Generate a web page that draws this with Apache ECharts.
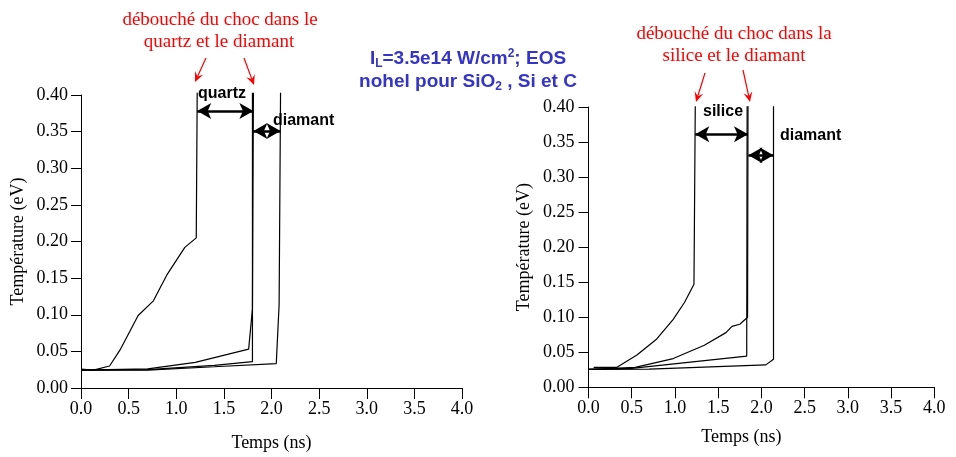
<!DOCTYPE html>
<html>
<head>
<meta charset="utf-8">
<script src="https://cdn.jsdelivr.net/npm/echarts@6/dist/echarts.min.js"></script>
<style>
  html, body { margin: 0; background: #fff; }
  #chart { width: 956px; height: 457px; }
</style>
</head>
<body>
<div id="chart"></div>
<script>
// Temps (ns), Température (eV)
const quartzFront  = [[0, 0.0257], [0.13, 0.0244], [0.30, 0.030], [0.41, 0.052], [0.60, 0.099], [0.76, 0.119], [0.90, 0.154], [1.09, 0.192], [1.21, 0.205], [1.22, 0.403]];
const quartzRear   = [[0, 0.0245], [0.70, 0.026], [1.20, 0.035], [1.76, 0.053], [1.80, 0.108], [1.81, 0.403]];
const quartzMid    = [[0, 0.0245], [0.70, 0.025], [1.40, 0.031], [1.80, 0.036], [1.80, 0.403]];
const diamantLeft  = [[0, 0.0245], [0.70, 0.0245], [1.40, 0.029], [2.05, 0.0334], [2.08, 0.114], [2.095, 0.403]];

const siliceFront  = [[0.06, 0.0285], [0.33, 0.0285], [0.56, 0.046], [0.79, 0.069], [0.98, 0.097], [1.11, 0.121], [1.22, 0.147], [1.235, 0.401]];
const siliceRear   = [[0, 0.0257], [0.54, 0.0285], [0.98, 0.041], [1.34, 0.060], [1.59, 0.078], [1.66, 0.087], [1.75, 0.090], [1.84, 0.100], [1.845, 0.401]];
const siliceMid    = [[0, 0.0257], [0.50, 0.027], [1.83, 0.0446], [1.835, 0.401]];
const diamantRight = [[0, 0.0257], [0.70, 0.026], [2.05, 0.032], [2.14, 0.040], [2.14, 0.401]];

// flèches doubles : [x début, x fin, y]
const leftSpans  = [[1.22, 1.81, 0.378], [1.81, 2.095, 0.351]];
const rightSpans = [[1.235, 1.845, 0.361], [1.85, 2.14, 0.331]];

const SERIF = "'Liberation Serif', 'DejaVu Serif', serif";
const SANS = "'Liberation Sans', Arial, sans-serif";

const chart = echarts.init(document.getElementById("chart"));

function xAxisFor(gridIndex, nameGap, namePad) {
  return {
    type: "value", gridIndex, min: 0, max: 4, interval: 0.5,
    name: "Temps (ns)", nameLocation: "middle", nameGap,
    nameTextStyle: { fontFamily: SERIF, fontSize: 18, color: "#000", padding: namePad },
    axisLine: { onZero: false, lineStyle: { color: "#000", width: 1 } },
    axisTick: { length: 11, lineStyle: { color: "#000" } },
    axisLabel: { margin: 12, fontFamily: SERIF, fontSize: 18, color: "#000", formatter: v => v.toFixed(1) },
    splitLine: { show: false },
  };
}

function yAxisFor(gridIndex, nameGap, labelMargin) {
  return {
    type: "value", gridIndex, min: 0, max: 0.4, interval: 0.05,
    name: "Température (eV)", nameLocation: "middle", nameGap,
    nameTextStyle: { fontFamily: SERIF, fontSize: 18, color: "#000" },
    axisLine: { show: true, onZero: false, lineStyle: { color: "#000", width: 1 } },
    axisTick: { show: true, length: 10, lineStyle: { color: "#000" } },
    axisLabel: { margin: labelMargin, fontFamily: SERIF, fontSize: 18, color: "#000", formatter: v => v.toFixed(2) },
    splitLine: { show: false },
  };
}

function curve(data, idx) {
  return {
    type: "line", xAxisIndex: idx, yAxisIndex: idx, data,
    showSymbol: false, clip: false, silent: true,
    lineStyle: { color: "#000", width: 1.2 },
  };
}

function spanMarks(spans) {
  return {
    silent: true,
    symbol: ["arrow", "arrow"],
    symbolSize: [12, 14],
    lineStyle: { color: "#000", width: 2.5, type: "solid" },
    label: { show: false },
    data: spans.map(([a, b, y]) => [{ coord: [a, y] }, { coord: [b, y] }]),
  };
}

const leftSeries = [quartzFront, quartzRear, quartzMid, diamantLeft].map(d => curve(d, 0));
const rightSeries = [siliceFront, siliceRear, siliceMid, diamantRight].map(d => curve(d, 1));
leftSeries[0].markLine = spanMarks(leftSpans);
rightSeries[0].markLine = spanMarks(rightSpans);

// flèche rouge fine (ligne + pointe)
function redArrow(x1, y1, x2, y2) {
  const ang = Math.atan2(y2 - y1, x2 - x1);
  const len = 10, half = 4.5;
  const bx = x2 - len * Math.cos(ang), by = y2 - len * Math.sin(ang);
  const nx = -Math.sin(ang), ny = Math.cos(ang);
  const nxm = x2 - 0.6 * len * Math.cos(ang), nym = y2 - 0.6 * len * Math.sin(ang);
  return [
    { type: "line", shape: { x1, y1, x2: nxm, y2: nym }, style: { stroke: "#ff0000", lineWidth: 1.2 } },
    { type: "polygon", shape: { points: [[x2, y2], [bx + nx * half, by + ny * half], [nxm, nym], [bx - nx * half, by - ny * half]] },
      style: { fill: "#ff0000" } },
  ];
}

function redText(x, y, text) {
  return { type: "text", x, y, style: { text, fill: "#ff0000", font: `19px ${SERIF}`, align: "center", verticalAlign: "middle" } };
}

function boldLabel(x, y, text) {
  return { type: "text", x, y, style: { text, fill: "#000", font: `bold 16px ${SANS}`, align: "left", verticalAlign: "middle" } };
}

const titleRich = {
  t: { fontFamily: SANS, fontWeight: "bold", fontSize: 19, fill: "#3434c8" },
  sub: { fontFamily: SANS, fontWeight: "bold", fontSize: 12, fill: "#3434c8", verticalAlign: "bottom", padding: [10, 0, 0, 0] },
  sup: { fontFamily: SANS, fontWeight: "bold", fontSize: 12, fill: "#3434c8", verticalAlign: "top", padding: [0, 0, 9, 0] },
};

const graphic = [
  redText(220, 20, "débouché du choc dans le"),
  redText(219, 42, "quartz et le diamant"),
  redText(734, 34, "débouché du choc dans la"),
  redText(734, 56, "silice et le diamant"),
  ...redArrow(206, 58, 195, 82),
  ...redArrow(244, 58, 254, 85),
  ...redArrow(705, 73, 696, 102),
  ...redArrow(743, 70, 750, 102),
  boldLabel(198, 94, "quartz"),
  boldLabel(273, 121, "diamant"),
  boldLabel(703, 112, "silice"),
  boldLabel(780, 136, "diamant"),
  { type: "text", x: 468, y: 59, style: { text: "{t|I}{sub|L}{t|=3.5e14 W/cm}{sup|2}{t|; EOS}", rich: titleRich, align: "center", verticalAlign: "middle" } },
  { type: "text", x: 468, y: 82, style: { text: "{t|nohel pour SiO}{sub|2}{t| , Si et C}", rich: titleRich, align: "center", verticalAlign: "middle" } },
];

chart.setOption({
  animation: false,
  backgroundColor: "#fff",
  grid: [
    { left: 81, right: 494, top: 95, bottom: 66 },
    { left: 588.5, right: 21.7, top: 107, bottom: 69.7 },
  ],
  xAxis: [xAxisFor(0, 46, [0, 0, 0, 0]), xAxisFor(1, 41, [0, 40, 0, 0])],
  yAxis: [yAxisFor(0, 54, 13), yAxisFor(1, 55, 14)],
  series: [...leftSeries, ...rightSeries],
  graphic,
});
</script>
</body>
</html>
